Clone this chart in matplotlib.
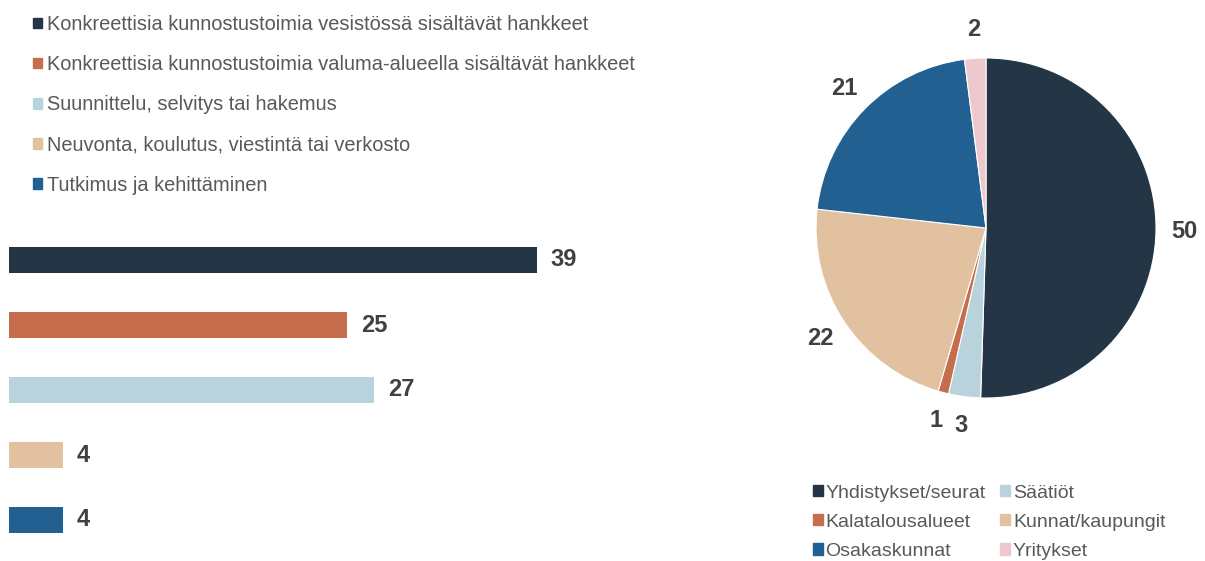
import numpy as np
import matplotlib
matplotlib.use("Agg")
import matplotlib.pyplot as plt
from matplotlib.patches import Patch

plt.rcParams["font.family"] = ["Liberation Sans", "DejaVu Sans"]

# --- data ---
bar_labels = [
    "Konkreettisia kunnostustoimia vesistössä sisältävät hankkeet",
    "Konkreettisia kunnostustoimia valuma-alueella sisältävät hankkeet",
    "Suunnittelu, selvitys tai hakemus",
    "Neuvonta, koulutus, viestintä tai verkosto",
    "Tutkimus ja kehittäminen",
]
bar_values = [39, 25, 27, 4, 4]
bar_colors = ["#243546", "#C66D4D", "#B9D3DC", "#E1C19F", "#226091"]

pie_labels = ["Yhdistykset/seurat", "Säätiöt", "Kalatalousalueet",
              "Kunnat/kaupungit", "Osakaskunnat", "Yritykset"]
pie_values = [50, 3, 1, 22, 21, 2]
pie_colors = ["#243546", "#B9D3DC", "#C66D4D", "#E1C19F", "#226091", "#EDC8CF"]

TXT = "#595959"
NUM = "#404040"
W, H = 1205, 561

fig = plt.figure(figsize=(W / 100, H / 100), dpi=100)

# --- bars ---
ax = fig.add_axes([9 / W, (H - 552.5) / H, 609 / W, 325 / H])
y = np.arange(len(bar_values))
ax.barh(y, bar_values, height=0.4, color=bar_colors)
ax.set_xlim(0, 45)
ax.set_ylim(len(bar_values) - 0.5, -0.5)
for yi, v in zip(y, bar_values):
    ax.text(v + 1.0, yi, str(v), va="center", ha="left", fontsize=17,
            fontweight="bold", color=NUM)
ax.axis("off")

handles = [Patch(color=c) for c in bar_colors]
fig.legend(handles, bar_labels, loc="upper left", bbox_to_anchor=(25 / W, 1 - 7 / H),
           frameon=False, fontsize=14.4, labelcolor=TXT, handlelength=0.45,
           handleheight=0.45, handletextpad=0.25, labelspacing=1.06, borderaxespad=0)

# --- pie ---
pax = fig.add_axes([816 / W, (H - 398) / H, 340 / W, 340 / H])
wedges, _ = pax.pie(pie_values, colors=pie_colors, startangle=90, counterclock=False,
                    radius=1, wedgeprops=dict(linewidth=0.8, edgecolor="white"))
pax.set_xlim(-1, 1)
pax.set_ylim(-1, 1)
pax.set_aspect("equal")
for w, v in zip(wedges, pie_values):
    ang = np.deg2rad((w.theta1 + w.theta2) / 2)
    r = 1.17
    pax.text(r * np.cos(ang), r * np.sin(ang), str(v), ha="center", va="center",
             fontsize=17, fontweight="bold", color=NUM, clip_on=False)

# legend is row-major in the reference; matplotlib fills column-major
order = [0, 2, 4, 1, 3, 5]
ph = [Patch(color=pie_colors[i]) for i in order]
pl = [pie_labels[i] for i in order]
fig.legend(ph, pl, loc="upper left", bbox_to_anchor=(805 / W, 1 - 477 / H), ncol=2,
           frameon=False, fontsize=14, labelcolor=TXT, handlelength=0.5,
           handleheight=0.5, handletextpad=0.15, labelspacing=0.62,
           columnspacing=0.75, borderaxespad=0)

fig.savefig("out.png", dpi=100)
